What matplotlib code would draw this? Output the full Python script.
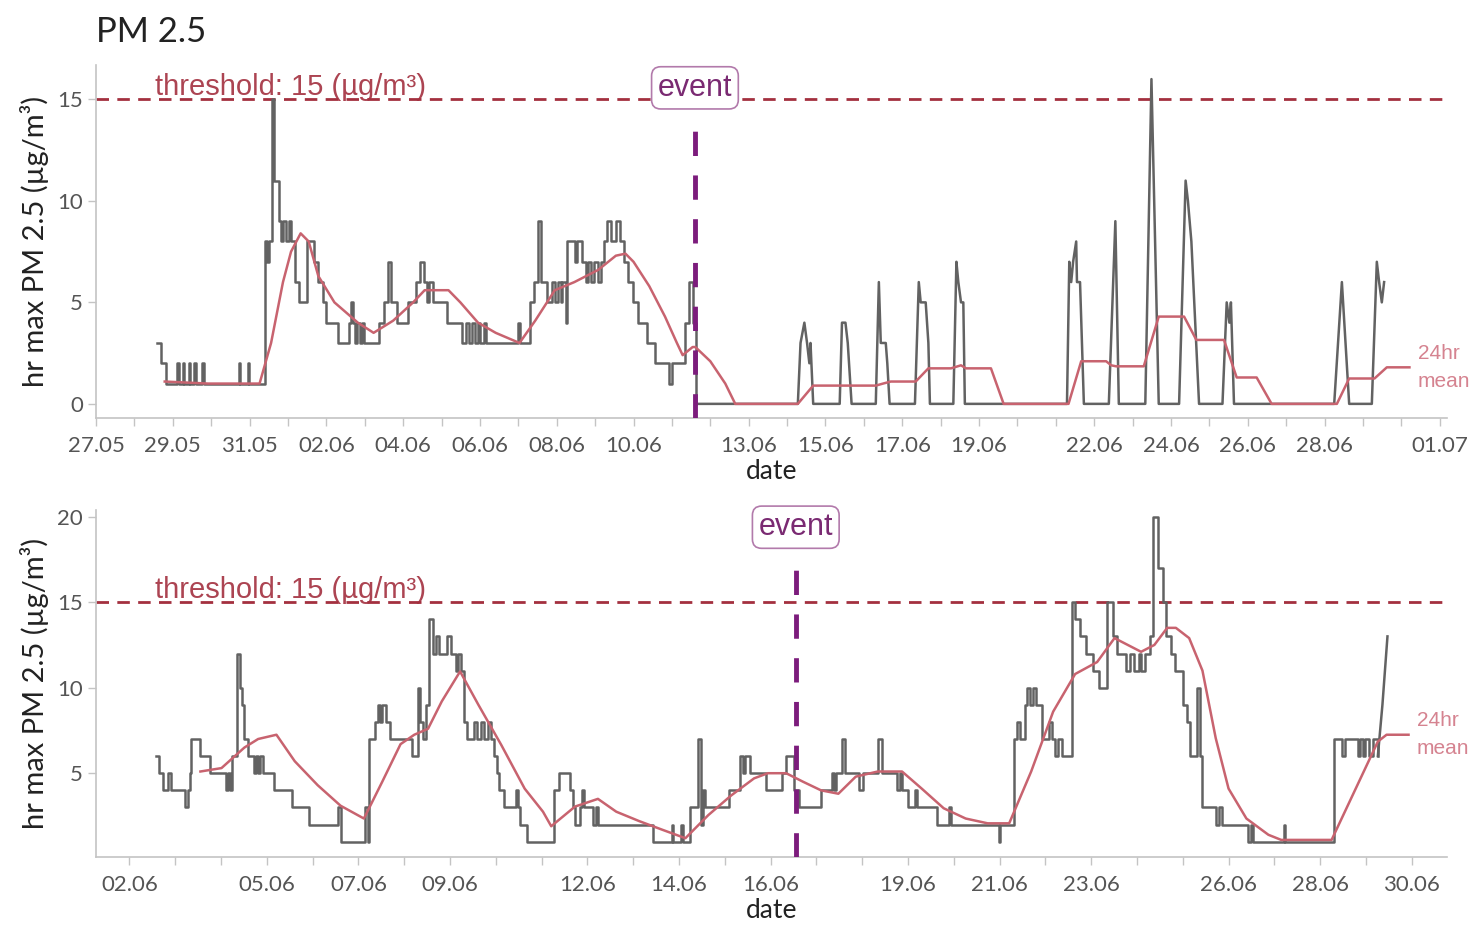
import matplotlib
matplotlib.use('Agg')
import matplotlib.pyplot as plt
import matplotlib.dates as mdates
import matplotlib.ticker as mticker
import pandas as pd

plt.rcParams['font.family'] = ['Lato', 'DejaVu Sans']

# ---- data (days since start date, value) ----
top_start = pd.Timestamp('2023-05-27')
top_t = [1.59, 1.67, 1.69, 1.77, 1.82, 2.10, 2.12, 2.16, 2.26, 2.30, 2.41, 2.45, 2.56, 2.61,
         2.77, 2.81, 3.69, 3.72, 3.76, 3.93, 3.95, 3.99, 4.26, 4.39, 4.46, 4.51, 4.59, 4.64,
         4.72, 4.77, 4.83, 4.87, 4.95, 5.03, 5.08, 5.18, 5.28, 5.44, 5.49, 5.59, 5.69, 5.79,
         5.90, 6.00, 6.26, 6.31, 6.56, 6.59, 6.64, 6.70, 6.74, 6.80, 6.87, 6.92, 6.97, 7.31,
         7.38, 7.49, 7.61, 7.69, 7.85, 8.10, 8.13, 8.34, 8.44, 8.54, 8.62, 8.67, 8.77, 9.08,
         9.13, 9.49, 9.54, 9.64, 9.71, 9.79, 9.88, 9.95, 10.00, 10.10, 10.15, 10.95, 10.99,
         11.05, 11.23, 11.31, 11.42, 11.52, 11.59, 11.74, 11.87, 11.95, 12.03, 12.10, 12.15,
         12.23, 12.28, 12.41, 12.48, 12.54, 12.67, 12.75, 12.82, 12.89, 12.97, 13.08, 13.16,
         13.23, 13.30, 13.41, 13.54, 13.64, 13.74, 13.85, 13.98, 14.12, 14.36, 14.56, 14.87,
         14.92, 15.01, 15.18, 15.33, 15.44, 15.54, 15.64,
         18.28, 18.35, 18.45, 18.52, 18.58, 18.61, 18.68,
         19.37, 19.43, 19.52, 19.58, 19.68,
         20.31, 20.39, 20.44, 20.57, 20.61, 20.67,
         21.33, 21.43, 21.48, 21.61, 21.68, 21.72,
         22.33, 22.41, 22.46, 22.53, 22.59, 22.63,
         25.29, 25.35, 25.40, 25.45, 25.53, 25.55, 25.63, 25.73,
         26.38, 26.55, 26.64,
         27.33, 27.49, 27.68,
         28.21, 28.38, 28.44, 28.53, 28.73,
         29.34, 29.45, 29.52, 29.56, 29.64,
         32.25, 32.45, 32.64,
         33.23, 33.36, 33.42, 33.49, 33.55]
top_v = [3, 3, 2, 2, 1, 1, 2, 1, 2, 1, 2, 1, 2, 1,
         2, 1, 1, 2, 1, 1, 2, 1, 1, 8, 7, 8, 15, 11,
         11, 9, 8, 9, 8, 9, 8, 6, 5, 5, 8, 8, 7, 6,
         5, 4, 4, 3, 3, 4, 5, 4, 3, 4, 3, 4, 3, 3,
         4, 5, 7, 5, 4, 4, 5, 6, 7, 6, 5, 6, 5, 5,
         4, 4, 3, 4, 3, 4, 3, 4, 3, 4, 3, 3, 4,
         3, 3, 5, 6, 9, 6, 5, 6, 5, 6, 5, 6,
         4, 8, 8, 7, 8, 7, 6, 7, 6, 7, 6, 7,
         8, 9, 8, 9, 8, 7, 6, 5, 4, 3, 2, 2,
         1, 2, 2, 4, 6, 4, 0,
         0, 3, 4, 3, 2, 3, 0,
         0, 4, 4, 3, 0,
         0, 6, 3, 3, 2, 0,
         0, 6, 5, 5, 3, 0,
         0, 7, 6, 5, 5, 0,
         0, 7, 6, 7, 8, 6, 6, 0,
         0, 9, 0,
         0, 16, 0,
         0, 11, 10, 8, 0,
         0, 5, 4, 5, 0,
         0, 6, 0,
         0, 7, 6, 5, 6]
top_step_until = 15.64  # hourly steps before this, sharp spikes after
top_mean_t = [1.79, 2.92, 4.26, 4.56, 4.87, 5.08, 5.33, 5.54, 5.79, 6.21, 6.82, 7.23, 7.74,
              8.26, 8.56, 9.18, 9.49, 9.95, 10.41, 11.03, 11.44, 11.95, 12.46, 13.08, 13.54,
              13.79, 14.00, 14.41, 14.82, 15.13, 15.28, 15.54, 15.61, 16.00, 16.39, 16.65,
              18.28, 18.68, 20.31, 20.50, 20.70, 21.35, 21.68, 22.27, 22.53, 22.66, 23.31,
              23.64, 25.33, 25.66, 26.31, 26.44, 26.57, 27.29, 27.68, 28.34, 28.66, 29.38,
              29.71, 30.23, 30.62, 32.32, 32.64, 33.30, 33.62, 34.21]
top_mean_v = [1.1, 1.0, 1.0, 3.0, 6.0, 7.5, 8.4, 8.0, 6.3, 5.0, 4.0, 3.5, 4.1,
              5.0, 5.6, 5.6, 5.0, 4.0, 3.5, 3.0, 4.1, 5.6, 6.0, 6.6, 7.3,
              7.4, 7.0, 5.8, 4.3, 3.0, 2.4, 2.8, 2.8, 2.1, 1.0, 0,
              0, 0.9, 0.9, 1.0, 1.1, 1.1, 1.75, 1.75, 1.9, 1.75, 1.75,
              0, 0, 2.1, 2.1, 1.9, 1.85, 1.85, 4.3, 4.3, 3.15, 3.15,
              1.3, 1.3, 0, 0, 1.25, 1.25, 1.8, 1.8]
top_event = pd.Timestamp('2023-06-11 14:24')
top_ticklabels = ['27.05', '29.05', '31.05', '02.06', '04.06', '06.06', '08.06', '10.06',
                  '13.06', '15.06', '17.06', '19.06', '22.06', '24.06', '26.06', '28.06', '01.07']

bot_start = pd.Timestamp('2023-06-01')
bot_t = [1.58, 1.65, 1.73, 1.82, 1.85, 1.90, 2.15, 2.22, 2.28, 2.32, 2.35, 2.50, 2.55, 2.71,
         2.76, 3.09, 3.11, 3.15, 3.19, 3.24, 3.29, 3.34, 3.41, 3.46, 3.51, 3.59, 3.66, 3.71,
         3.76, 3.81, 3.86, 3.91, 4.16, 4.51, 4.56, 4.86, 4.91, 5.51, 5.56, 5.61, 6.10, 6.14,
         6.20, 6.24, 6.32, 6.37, 6.42, 6.47, 6.52, 6.60, 6.70, 7.12, 7.17, 7.24, 7.30, 7.34,
         7.40, 7.47, 7.54, 7.62, 7.70, 7.77, 7.82, 7.94, 8.02, 8.12, 8.17, 8.24, 8.30, 8.37,
         8.47, 8.52, 8.60, 8.67, 8.74, 8.82, 8.90, 8.97, 9.02, 9.07, 9.17, 9.37, 9.43, 9.48,
         9.53, 9.63, 9.68, 10.18, 10.28, 10.38, 10.58, 10.63, 10.68, 10.73, 10.83, 10.88,
         10.93, 11.03, 11.13, 11.18, 11.23, 12.38, 12.43, 12.82, 12.84, 12.88, 13.02, 13.04,
         13.08, 13.19, 13.24, 13.36, 13.42, 13.47, 13.52, 13.57, 14.04, 14.09, 14.29, 14.34,
         14.39, 14.45, 14.54, 14.84, 14.89, 15.19, 15.24, 15.34, 15.43, 15.52, 15.62, 16.05,
         16.10, 16.29, 16.34, 16.38, 16.43, 16.56, 16.62, 16.91, 16.94, 17.01, 17.25, 17.34,
         17.44, 17.72, 17.77, 17.82, 17.87, 18.01, 18.13, 18.16, 18.20, 18.59, 18.63, 18.87,
         18.89, 18.93, 19.93, 19.98, 20.02, 20.26, 20.31, 20.39, 20.45, 20.55, 20.60, 20.67,
         20.74, 20.80, 20.88, 20.93, 21.05, 21.09, 21.15, 21.22, 21.28, 21.36, 21.41, 21.58,
         21.65, 21.75, 21.89, 22.03, 22.18, 22.34, 22.47, 22.56, 22.69, 22.75, 22.85, 22.94,
         23.04, 23.09, 23.18, 23.28, 23.36, 23.45, 23.52, 23.57, 23.64, 23.74, 23.84, 23.90,
         24.00, 24.09, 24.16, 24.24, 24.31, 24.38, 24.43, 24.62, 24.72, 24.79, 24.86, 25.39,
         25.43, 25.48, 25.53, 26.17, 26.20, 26.23, 27.25, 27.30, 27.44, 27.47, 27.54, 27.78,
         27.83, 27.88, 27.93, 27.97, 28.07, 28.16, 28.26, 28.36, 28.47]
bot_v = [6, 5, 4, 4, 5, 4, 4, 3, 4, 5, 7, 7, 6, 6,
         5, 5, 4, 5, 4, 6, 6, 12, 10, 9, 7, 6, 6, 5,
         6, 5, 6, 5, 4, 4, 3, 3, 2, 2, 3, 1, 1, 3,
         1, 7, 7, 8, 9, 8, 9, 8, 7, 7, 6, 6, 10, 8,
         7, 9, 14, 12, 13, 12, 12, 13, 12, 11, 12, 11, 8, 7,
         7, 8, 7, 8, 7, 8, 7, 6, 5, 4, 3, 3, 4, 3,
         2, 2, 1, 1, 4, 5, 5, 4, 3, 2, 3, 4,
         3, 3, 2, 3, 2, 2, 1, 1, 2, 1, 1, 2,
         1, 1, 3, 3, 7, 2, 4, 3, 3, 4, 4, 6,
         5, 6, 5, 5, 4, 4, 5, 6, 6, 4, 3, 3,
         4, 4, 5, 4, 5, 7, 5, 5, 4, 5, 5, 7,
         5, 5, 4, 5, 4, 3, 3, 4, 3, 3, 2, 2,
         3, 2, 2, 1, 2, 2, 7, 8, 7, 9, 10, 9,
         10, 9, 9, 7, 7, 8, 7, 6, 7, 6, 6, 15,
         14, 13, 12, 11, 10, 15, 13, 12, 12, 11, 12, 11,
         12, 11, 12, 13, 20, 17, 17, 15, 13, 12, 11, 11,
         9, 8, 6, 6, 10, 6, 3, 3, 2, 3, 2, 2,
         1, 2, 1, 1, 2, 1, 1, 7, 7, 6, 7, 7,
         6, 7, 6, 7, 6, 7, 6, 9, 13]
bot_step_until = 28.26
bot_mean_t = [2.55, 3.01, 3.51, 3.81, 4.21, 4.61, 5.11, 5.61, 6.12, 6.52, 6.92, 7.22, 7.52,
              7.82, 8.22, 8.62, 9.12, 9.63, 10.03, 10.21, 10.73, 11.23, 11.63, 12.13, 12.63,
              13.14, 13.64, 14.14, 14.64, 14.94, 15.34, 15.71, 16.10, 16.48, 16.86, 17.34,
              17.87, 18.30, 18.78, 19.26, 19.74, 20.21, 20.69, 21.17, 21.65, 22.13, 22.51,
              23.09, 23.38, 23.66, 23.85, 24.14, 24.43, 24.72, 25.00, 25.39, 25.87, 26.15,
              27.25, 28.26, 28.45, 28.93]
bot_mean_v = [5.1, 5.3, 6.5, 7.0, 7.25, 5.7, 4.3, 3.1, 2.35, 4.5, 6.7, 7.25, 7.6,
              9.2, 10.95, 9.0, 6.65, 4.1, 2.75, 1.9, 3.05, 3.5, 2.75, 2.2, 1.7,
              1.2, 2.55, 3.7, 4.7, 5.0, 5.0, 4.5, 4.0, 3.8, 4.8, 5.1,
              5.1, 4.1, 2.95, 2.35, 2.07, 2.07, 5.1, 8.6, 10.8, 11.5, 12.9,
              12.1, 12.5, 13.5, 13.5, 12.9, 11.0, 7.05, 4.1, 2.35, 1.4, 1.1,
              1.1, 6.85, 7.25, 7.25]
bot_event = pd.Timestamp('2023-06-16 13:12')
bot_ticklabels = ['02.06', '05.06', '07.06', '09.06', '12.06', '14.06', '16.06', '19.06',
                  '21.06', '23.06', '26.06', '28.06', '30.06']

threshold = 15
ylabel = 'hr max PM 2.5 (µg/m³)'

GRAY = '#626262'
PINK = '#c8636f'
PINK_TXT = '#d58390'
RED = '#a3303f'
PURPLE = '#7c1c7c'
AXC = '#c4c4c4'
TICKC = '#555555'


def days(start, t):
    return start + pd.to_timedelta(t, unit='D')


def tick_dates(labels, year=2023):
    return [pd.Timestamp(f'{year}-{s[3:5]}-{s[0:2]}') for s in labels]


fig = plt.figure(figsize=(14.77, 9.27), dpi=100)
ax1 = fig.add_axes([0.065, 0.549, 0.915, 0.381])
ax2 = fig.add_axes([0.065, 0.0755, 0.915, 0.3745])

panels = [
    (ax1, top_start, top_t, top_v, top_step_until, top_mean_t, top_mean_v, top_event,
     top_ticklabels, (0, 35.2), (-0.7, 16.7), [0, 5, 10, 15], 0.935),
    (ax2, bot_start, bot_t, bot_v, bot_step_until, bot_mean_t, bot_mean_v, bot_event,
     bot_ticklabels, (0.27, 29.78), (0.1, 20.4), [5, 10, 15, 20], 0.95),
]

for ax, start, t, v, split, mt, mv, ev, labels, xl, yl, yt, evy in panels:
    k = t.index(split) + 1
    ax.plot(days(start, t[:k]), v[:k], color=GRAY, lw=1.8, drawstyle='steps-post', zorder=3)
    ax.plot(days(start, t[k - 1:]), v[k - 1:], color=GRAY, lw=1.8, zorder=3)
    ax.plot(days(start, mt), mv, color=PINK, lw=1.8, zorder=4)
    ax.axhline(threshold, color=RED, lw=2, ls=(0, (4.5, 3)), zorder=2)
    ax.annotate('threshold: 15 (µg/m³)', xy=(0.044, threshold),
                xycoords=('axes fraction', 'data'), xytext=(0, 3), textcoords='offset points',
                color=RED, fontsize=21, family='Liberation Sans', va='baseline', ha='left',
                alpha=0.9)
    ax.axvline(ev, ymin=0, ymax=0.86, color=PURPLE, lw=3.5, ls=(0, (5, 4)), zorder=5)
    ax.text(ev, evy, 'event', transform=ax.get_xaxis_transform(), ha='center', va='center',
            fontsize=22, family='Liberation Sans', color='#7a2a72', zorder=6,
            bbox=dict(boxstyle='round,pad=0.2,rounding_size=0.3', fc='white', ec='#b27aab', lw=1.2))
    ax.annotate('24hr\nmean', xy=(days(start, [mt[-1]])[0], mv[-1]), xytext=(6, 0),
                textcoords='offset points', color=PINK_TXT, fontsize=15,
                family='Liberation Sans', va='center', ha='left', linespacing=1.6,
                annotation_clip=False)

    ax.set_xlim(days(start, [xl[0]])[0], days(start, [xl[1]])[0])
    ax.set_ylim(*yl)
    ax.xaxis.set_major_locator(mticker.FixedLocator(mdates.date2num(tick_dates(labels))))
    ax.xaxis.set_major_formatter(mticker.FixedFormatter(labels))
    ax.xaxis.set_minor_locator(mdates.DayLocator())
    ax.set_yticks(yt)

    for s in ['top', 'right']:
        ax.spines[s].set_visible(False)
    for s in ['left', 'bottom']:
        ax.spines[s].set_color(AXC)
        ax.spines[s].set_linewidth(1.2)
    ax.tick_params(axis='both', which='both', colors=AXC, labelcolor=TICKC, length=6,
                   width=1, labelsize=16)
    ax.tick_params(axis='x', which='major', pad=7)
    ax.set_xlabel('date', fontsize=19, color='#222222', labelpad=2)
    ax.set_ylabel(ylabel, fontsize=21, color='#222222', labelpad=6)

fig.text(0.065, 0.955, 'PM 2.5', fontsize=25, color='#222222', ha='left', va='baseline')

fig.savefig('out.png', dpi=100)
